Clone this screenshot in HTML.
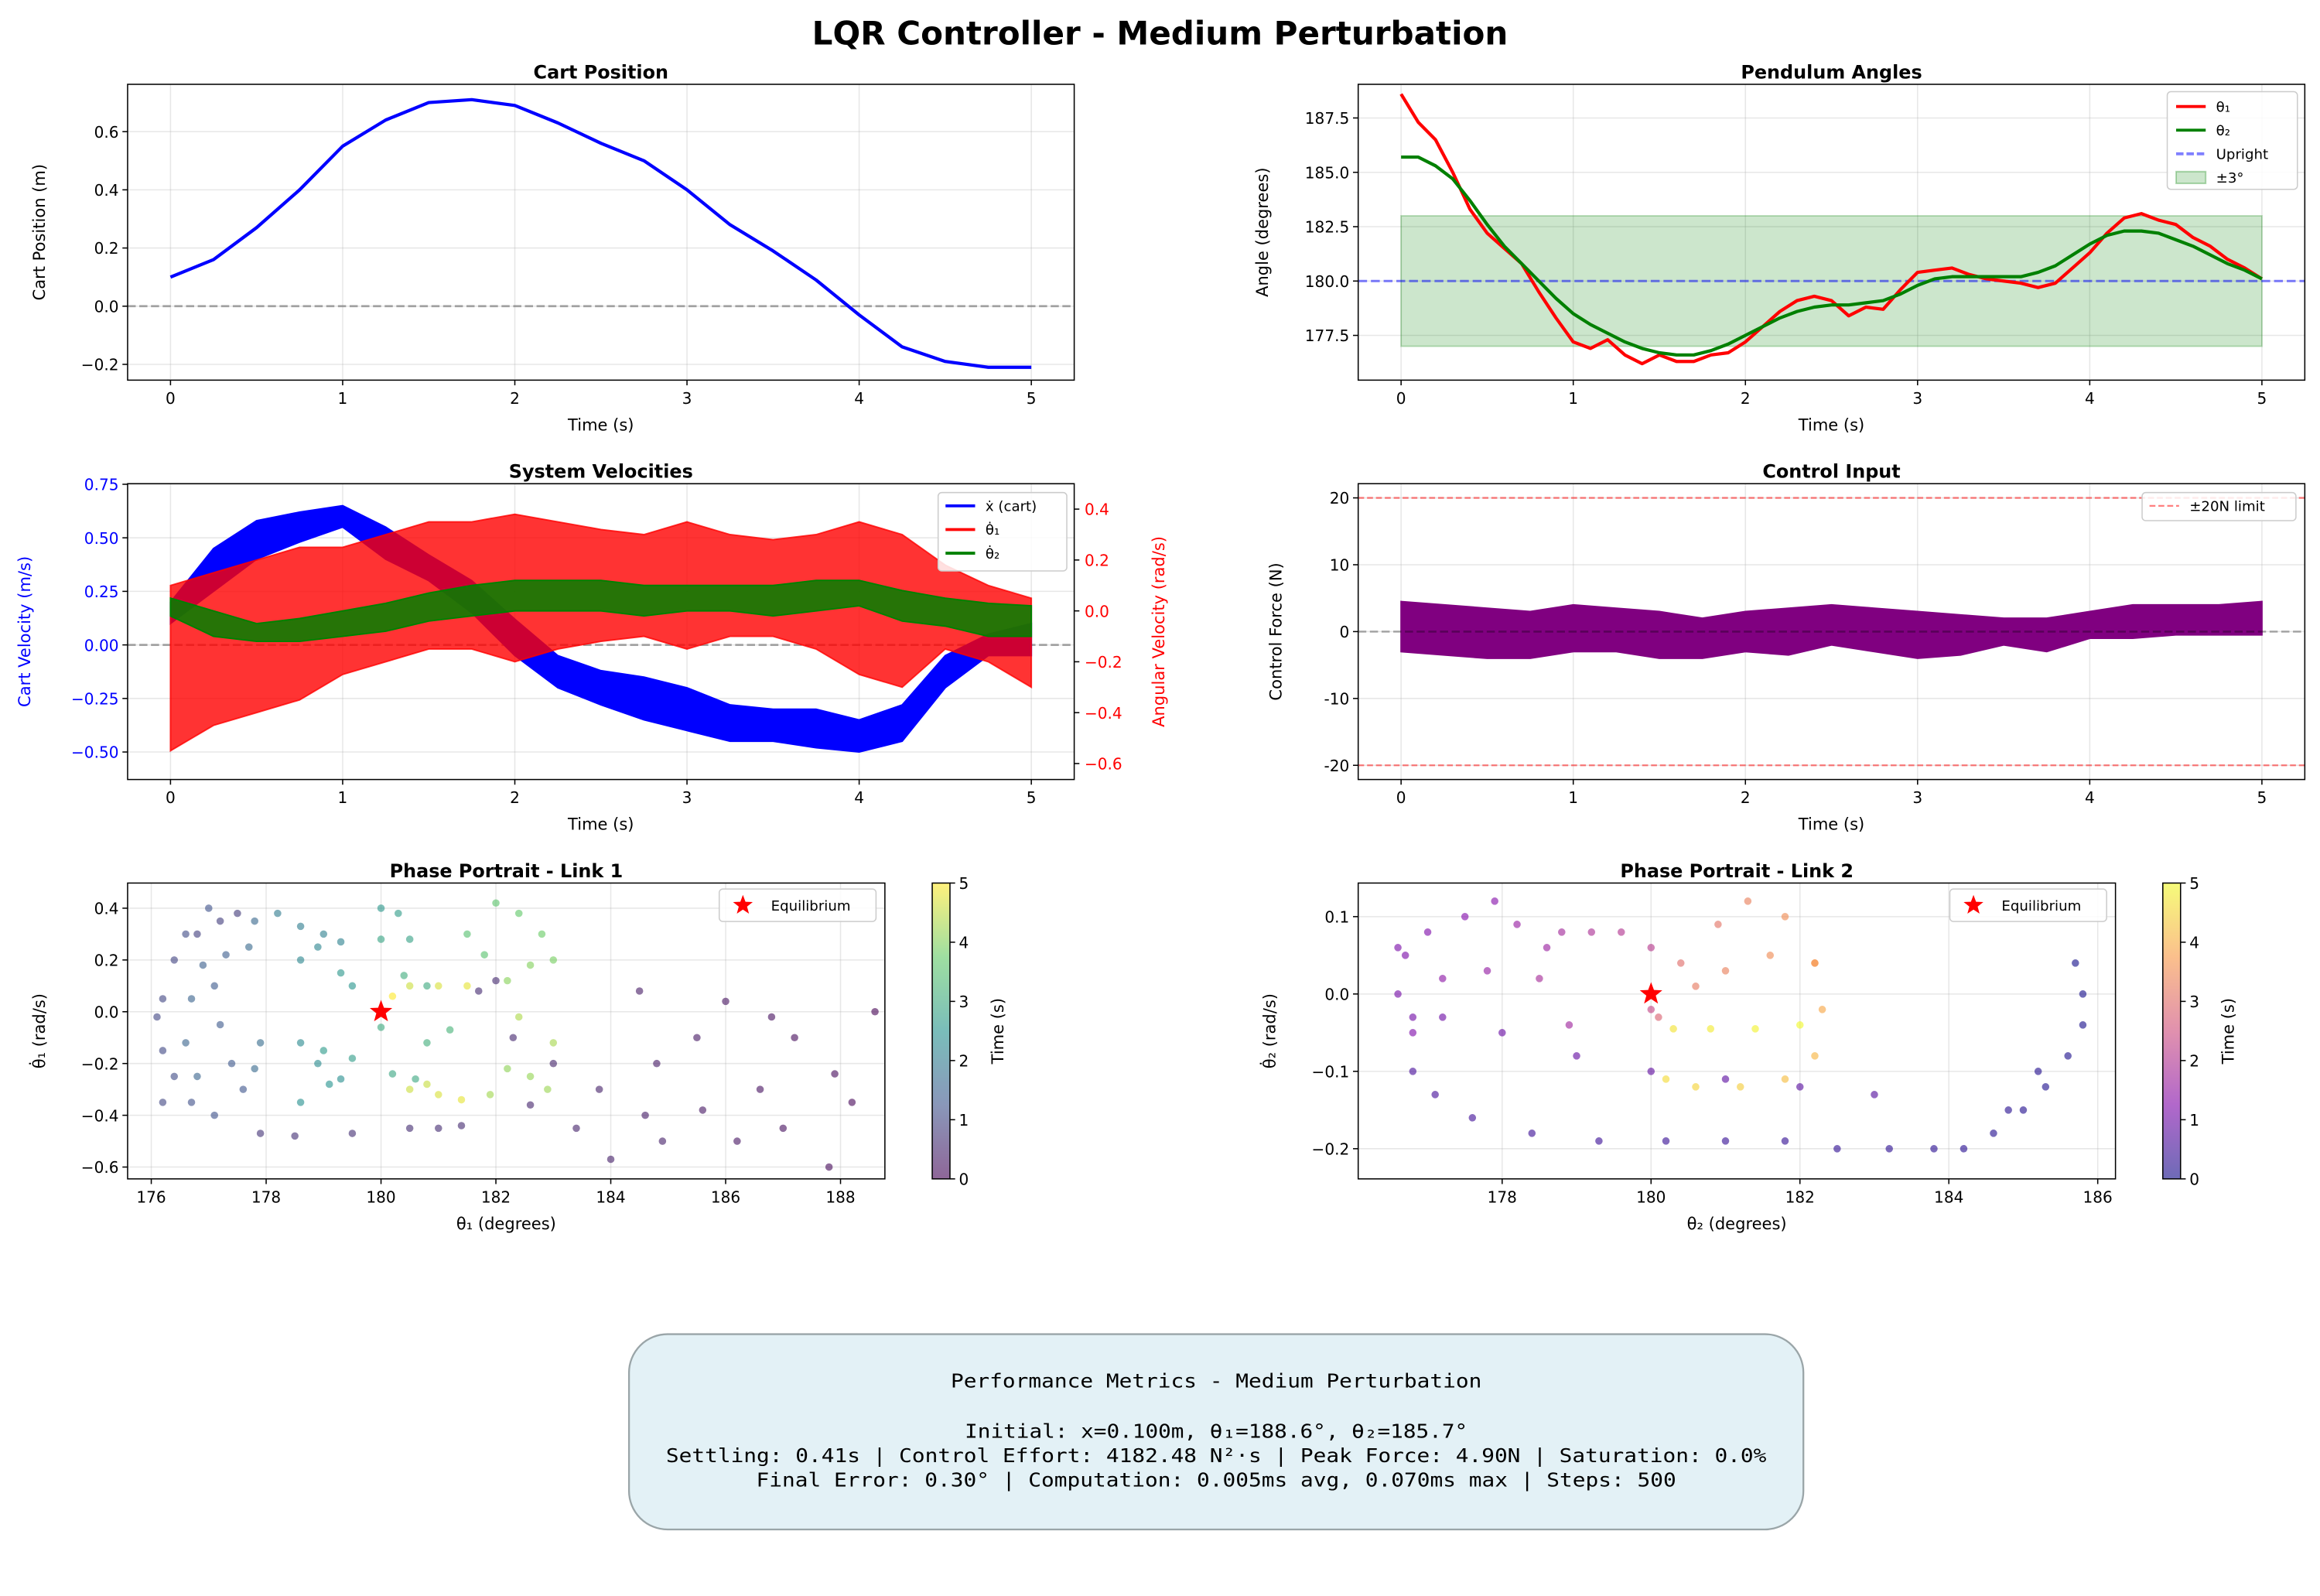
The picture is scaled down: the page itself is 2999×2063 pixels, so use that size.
<!DOCTYPE html>
<html><head><meta charset="utf-8"><title>LQR Controller - Medium Perturbation</title>
<style>
html,body{margin:0;padding:0;background:#fff;}
svg{display:block;font-family:"DejaVu Sans","Liberation Sans",sans-serif;}
</style></head>
<body>
<svg id="fig" xmlns="http://www.w3.org/2000/svg" width="2999" height="2063" viewBox="0 0 1568 1079">
<rect width="1568" height="1079" fill="#fff"/>
<text x="784" y="30" text-anchor="middle" font-size="22" font-weight="bold">LQR Controller - Medium Perturbation</text>
<g>
<rect x="425" y="902" width="794" height="132" rx="26" fill="#e3f1f6" stroke="#9aa5a8" stroke-width="1.2"/>
<g font-family="'DejaVu Sans Mono','Liberation Mono',monospace" font-size="13" text-anchor="middle" fill="#000" lengthAdjust="spacingAndGlyphs">
<text x="822" y="938" textLength="359" lengthAdjust="spacingAndGlyphs">Performance Metrics - Medium Perturbation</text>
<text x="822" y="972" textLength="340" lengthAdjust="spacingAndGlyphs">Initial: x=0.100m, θ₁=188.6°, θ₂=185.7°</text>
<text x="822" y="988.5" textLength="744" lengthAdjust="spacingAndGlyphs">Settling: 0.41s | Control Effort: 4182.48 N²·s | Peak Force: 4.90N | Saturation: 0.0%</text>
<text x="822" y="1005" textLength="622" lengthAdjust="spacingAndGlyphs">Final Error: 0.30° | Computation: 0.005ms avg, 0.070ms max | Steps: 500</text>
</g></g>
</svg>
<script>
// ---------- data ----------
const tQ = [0,0.25,0.5,0.75,1,1.25,1.5,1.75,2,2.25,2.5,2.75,3,3.25,3.5,3.75,4,4.25,4.5,4.75,5];
const cartPos = [0.10,0.16,0.27,0.40,0.55,0.64,0.70,0.71,0.69,0.63,0.56,0.50,0.40,0.28,0.19,0.09,-0.03,-0.14,-0.19,-0.21,-0.21];
const tA = [0,0.1,0.2,0.3,0.4,0.5,0.6,0.7,0.8,0.9,1,1.1,1.2,1.3,1.4,1.5,1.6,1.7,1.8,1.9,2,2.1,2.2,2.3,2.4,2.5,2.6,2.7,2.8,2.9,3,3.1,3.2,3.3,3.4,3.5,3.6,3.7,3.8,3.9,4,4.1,4.2,4.3,4.4,4.5,4.6,4.7,4.8,4.9,5];
const theta1Deg = [188.6,187.3,186.5,185,183.3,182.2,181.5,180.8,179.5,178.3,177.2,176.9,177.3,176.6,176.2,176.6,176.3,176.3,176.6,176.7,177.2,177.9,178.6,179.1,179.3,179.1,178.4,178.8,178.7,179.6,180.4,180.5,180.6,180.3,180.1,180.0,179.9,179.7,179.9,180.6,181.3,182.2,182.9,183.1,182.8,182.6,182.0,181.6,181.0,180.6,180.1];
const theta2Deg = [185.7,185.7,185.3,184.7,183.7,182.6,181.6,180.8,180,179.2,178.5,178,177.6,177.2,176.9,176.7,176.6,176.6,176.8,177.1,177.5,177.9,178.3,178.6,178.8,178.9,178.9,179.0,179.1,179.4,179.8,180.1,180.2,180.2,180.2,180.2,180.2,180.4,180.7,181.2,181.7,182.1,182.3,182.3,182.2,181.9,181.6,181.2,180.8,180.5,180.1];
const cartVelHi = [0.2,0.45,0.58,0.62,0.65,0.55,0.42,0.3,0.12,-0.05,-0.12,-0.15,-0.2,-0.28,-0.3,-0.3,-0.35,-0.28,-0.05,0.05,0.1];
const cartVelLo = [0.1,0.25,0.4,0.48,0.55,0.4,0.3,0.15,-0.05,-0.2,-0.28,-0.35,-0.4,-0.45,-0.45,-0.48,-0.5,-0.45,-0.2,-0.05,-0.05];
const omega1Hi = [0.1,0.15,0.2,0.25,0.25,0.3,0.35,0.35,0.38,0.35,0.32,0.3,0.35,0.3,0.28,0.3,0.35,0.3,0.18,0.1,0.05];
const omega1Lo = [-0.55,-0.45,-0.4,-0.35,-0.25,-0.2,-0.15,-0.15,-0.2,-0.15,-0.12,-0.1,-0.15,-0.1,-0.1,-0.15,-0.25,-0.3,-0.15,-0.2,-0.3];
const omega2Hi = [0.05,0.0,-0.05,-0.03,0.0,0.03,0.07,0.1,0.12,0.12,0.12,0.1,0.1,0.1,0.1,0.12,0.12,0.08,0.05,0.03,0.02];
const omega2Lo = [-0.02,-0.1,-0.12,-0.12,-0.1,-0.08,-0.04,-0.02,0.0,0.0,0.0,-0.02,0.0,0.0,-0.02,0.0,0.02,-0.04,-0.06,-0.1,-0.1];
const forceHi = [4.5,4,3.5,3,4,3.5,3,2,3,3.5,4,3.5,3,2.5,2,2,3,4,4,4,4.5];
const forceLo = [-3,-3.5,-4,-4,-3,-3,-4,-4,-3,-3.5,-2,-3,-4,-3.5,-2,-3,-1,-1,-0.5,-0.5,-0.5];
const phase1 = [[188.6,0.0,0],[188.2,-0.35,0.05],[187.9,-0.24,0.08],[187.8,-0.6,0.1],[187.2,-0.1,0.12],[187.0,-0.45,0.15],[186.8,-0.02,0.17],[186.6,-0.3,0.2],[186.0,0.04,0.22],[186.2,-0.5,0.25],[185.6,-0.38,0.28],[185.5,-0.1,0.3],[184.8,-0.2,0.32],[184.5,0.08,0.34],[184.6,-0.4,0.36],[184.9,-0.5,0.38],[184.0,-0.57,0.4],[183.8,-0.3,0.42],[183.4,-0.45,0.44],[183,-0.2,0.46],[182.6,-0.36,0.48],[182.3,-0.1,0.5],[182.0,0.12,0.52],[181.7,0.08,0.54],[181.4,-0.44,0.56],[181,-0.45,0.58],[180.5,-0.45,0.6],[179.5,-0.47,0.62],[178.5,-0.48,0.65],[177.9,-0.47,0.7],
[177.5,0.38,0.8],[177.2,0.35,0.85],[176.8,0.3,0.9],[176.4,0.2,0.95],[176.2,0.05,1.0],[176.1,-0.02,1.02],[176.2,-0.15,1.05],[176.4,-0.25,1.1],[176.7,-0.35,1.15],[177.1,-0.4,1.2],[177.6,-0.3,1.25],[177.4,-0.2,1.3],[177.2,-0.05,1.32],[177.1,0.1,1.35],[177.3,0.22,1.4],[176.9,0.18,1.45],[176.7,0.05,1.5],[176.6,-0.12,1.52],[176.8,-0.25,1.55],[177.8,0.35,1.6],[177.8,-0.22,1.62],[176.6,0.3,1.1],[177,0.4,1.2],[176.2,-0.35,1.0],[177.7,0.25,1.65],[177.9,-0.12,1.7],
[178.2,0.38,2.0],[178.6,0.33,2.05],[179,0.3,2.1],[179.3,0.27,2.15],[178.9,0.25,2.2],[178.6,0.2,2.25],[178.6,-0.12,2.3],[178.9,-0.2,2.35],[179.3,-0.26,2.4],[178.6,-0.35,2.45],[179.1,-0.28,2.5],[179.5,0.1,2.55],[179.3,0.15,2.6],[179,-0.15,2.65],[179.5,-0.18,2.7],[180,0.4,2.6],[180.3,0.38,2.7],[180.5,0.28,2.8],[180.2,-0.24,2.9],[180.6,-0.26,2.95],[180,0.28,2.85],[180,-0.06,3.0],[180.8,-0.12,3.1],[181.2,-0.07,3.2],[180.8,0.1,3.0],[180.4,0.14,3.05],
[182,0.42,3.6],[182.4,0.38,3.7],[182.8,0.3,3.8],[183,0.2,3.9],[182.6,0.18,4.0],[182.2,0.12,4.05],[182.2,-0.22,4.1],[182.6,-0.25,4.15],[182.9,-0.3,4.2],[181.9,-0.32,4.25],[181.5,0.3,3.5],[181.8,0.22,3.55],[183,-0.12,4.3],[182.4,-0.02,4.35],
[180.5,0.1,4.6],[181,0.1,4.7],[181.5,0.1,4.8],[180.5,-0.3,4.6],[181,-0.32,4.7],[181.4,-0.34,4.8],[180.2,0.06,5.0],[180.8,-0.28,4.55]];
const phase2 = [[185.7,0.04,0],[185.8,0.0,0.03],[185.8,-0.04,0.06],[185.6,-0.08,0.09],[185.3,-0.12,0.12],[185.0,-0.15,0.15],[184.6,-0.18,0.18],[184.2,-0.2,0.21],[183.8,-0.2,0.24],[183.2,-0.2,0.27],[182.5,-0.2,0.3],[181.8,-0.19,0.33],[181,-0.19,0.36],[180.2,-0.19,0.39],[179.3,-0.19,0.42],[178.4,-0.18,0.45],[177.6,-0.16,0.5],[177.1,-0.13,0.55],[176.8,-0.1,0.6],
[185.2,-0.1,0.15],[184.8,-0.15,0.2],[183,-0.13,0.7],[182,-0.12,0.75],[181,-0.11,0.8],[180,-0.1,0.85],[179,-0.08,0.9],[178,-0.05,0.95],[177.2,-0.03,1.0],[176.8,-0.03,1.05],
[176.6,0.0,1.1],[176.7,0.05,1.15],[177,0.08,1.2],[177.5,0.1,1.25],[177.9,0.12,1.3],[176.6,0.06,1.15],[176.8,-0.05,1.2],[177.2,0.02,1.4],[177.8,0.03,1.5],[178.2,0.09,1.55],[178.6,0.06,1.6],[178.9,-0.04,1.7],
[179.2,0.08,1.9],[179.6,0.08,2.0],[180,0.06,2.1],[178.5,0.02,1.8],[178.8,0.08,1.75],[180,-0.02,2.3],
[180.1,-0.03,2.8],[180.4,0.04,3.0],[180.9,0.09,3.1],[181.3,0.12,3.3],[181.8,0.1,3.5],[182.2,0.04,3.6],[180.6,0.01,3.2],[181,0.03,3.3],[181.6,0.05,3.5],[182.2,0.04,3.7],
[182.3,-0.02,3.9],[182.2,-0.08,4.1],[181.8,-0.11,4.2],[181.2,-0.12,4.4],[180.6,-0.12,4.5],[180.2,-0.11,4.6],[180.3,-0.045,4.7],[180.8,-0.045,4.8],[181.4,-0.045,4.9],[182,-0.04,5.0]];
const timeTicks = [0,1,2,3,4,5];
const posTicks = [-0.2,0,0.2,0.4,0.6];
const angTicks = [177.5,180,182.5,185,187.5];
const velTicks = [-0.5,-0.25,0,0.25,0.5,0.75];
const omegaTicks = [-0.6,-0.4,-0.2,0,0.2,0.4];
const forceTicks = [-20,-10,0,10,20];
const ph1XTicks = [176,178,180,182,184,186,188];
const ph1YTicks = [-0.6,-0.4,-0.2,0,0.2,0.4];
const ph2XTicks = [178,180,182,184,186];
const ph2YTicks = [-0.2,-0.1,0,0.1];
const cbTicks = [0,1,2,3,4,5];

// ---------- helpers ----------
const NS = 'http://www.w3.org/2000/svg';
const svg = document.getElementById('fig');
function mk(parent, tag, attrs, name, inter){
  const el = document.createElementNS(NS, tag);
  for (const k in attrs) el.setAttribute(k, attrs[k]);
  
  
  parent.appendChild(el);
  return el;
}
function txt(parent, x, y, s, name, opts){
  opts = opts || {};
  const a = {x:x, y:y, 'font-size': opts.size || 10.5, 'text-anchor': opts.anchor || 'middle', fill: opts.fill || '#000'};
  if (opts.weight) a['font-weight'] = opts.weight;
  if (opts.rot) a.transform = 'rotate(-90 ' + x + ' ' + y + ')';
  const el = mk(parent, 'text', a, name, false);
  el.textContent = s;
  return el;
}
function fmt(v, d){ const s = Math.abs(v).toFixed(d); return (v < -1e-9 ? '\u2212' : '') + s; }
function lin(d0, d1, p0, p1){ return v => p0 + (v - d0) * (p1 - p0) / (d1 - d0); }

function panel(name, box, sx, sy, xt, xd, yt, yd, opts){
  opts = opts || {};
  const g = mk(svg, 'g', {}, name, false);
  const [x0,y0,x1,y1] = box;
  const grid = mk(g, 'g', {stroke:'#b0b0b0','stroke-opacity':0.3,'stroke-width':0.8}, name+'-grid', false);
  xt.forEach(v => { mk(grid,'line',{x1:sx(v),x2:sx(v),y1:y0,y2:y1}, 'x-gridline', false); });
  yt.forEach(v => { mk(grid,'line',{x1:x0,x2:x1,y1:sy(v),y2:sy(v)}, 'y-gridline', false); });
  const xa = mk(g,'g',{}, name+'-x-axis', false);
  xt.forEach(v => {
    mk(xa,'line',{x1:sx(v),x2:sx(v),y1:y1,y2:y1+3.5,stroke:'#000','stroke-width':0.8}, 'x-tick', false);
    txt(xa, sx(v), y1+16, xd < 0 ? String(v) : fmt(v, xd), 'x-tick-label');
  });
  const ya = mk(g,'g',{}, name+'-y-axis', false);
  yt.forEach(v => {
    mk(ya,'line',{x1:x0-3.5,x2:x0,y1:sy(v),y2:sy(v),stroke:'#000','stroke-width':0.8}, 'y-tick', false);
    txt(ya, x0-6, sy(v)+4, yd < 0 ? String(v) : fmt(v, yd), 'y-tick-label', {anchor:'end', fill: opts.yColor || '#000'});
  });
  const plot = mk(g,'g',{}, name+'-plot-area', false);
  g._plot = plot;
  g._frame = () => mk(g,'rect',{x:x0,y:y0,width:x1-x0,height:y1-y0,fill:'none',stroke:'#000','stroke-width':0.8}, name+'-frame', false);
  if (opts.title) txt(g, (x0+x1)/2, y0-4, opts.title, name+'-title', {size:12.5, weight:'bold'});
  if (opts.xlabel) txt(g, (x0+x1)/2, y1+34, opts.xlabel, name+'-x-axis-title', {size:11});
  if (opts.ylabel) txt(g, opts.ylx, (y0+y1)/2, opts.ylabel, name+'-y-axis-title', {size:11, rot:true, fill: opts.yColor || '#000'});
  return g;
}
function pathFrom(xs, ys, sx, sy){ return xs.map((v,i) => (i ? 'L' : 'M') + sx(v).toFixed(2) + ',' + sy(ys[i]).toFixed(2)).join(''); }
function bandFrom(xs, hi, lo, sx, sy){
  let d = xs.map((v,i) => (i ? 'L' : 'M') + sx(v).toFixed(2) + ',' + sy(hi[i]).toFixed(2)).join('');
  for (let i = xs.length-1; i >= 0; i--) d += 'L' + sx(xs[i]).toFixed(2) + ',' + sy(lo[i]).toFixed(2);
  return d + 'Z';
}
const VIR = [[68,1,84],[59,82,139],[33,145,140],[94,201,98],[253,231,37]];
const PLA = [[13,8,135],[126,3,168],[204,71,120],[248,149,64],[240,249,33]];
function cmap(stops, f){
  f = Math.max(0, Math.min(1, f)); const p = f * (stops.length-1); const i = Math.min(stops.length-2, Math.floor(p)); const r = p - i;
  const c = stops[i].map((v,k) => Math.round(v + (stops[i+1][k]-v)*r));
  return 'rgb(' + c.join(',') + ')';
}
function legendBox(parent, x, y, w, h, name){
  return mk(parent,'rect',{x:x,y:y,width:w,height:h,rx:2.5,fill:'#fff','fill-opacity':0.85,stroke:'#ccc','stroke-width':0.8}, name, false);
}
function star(parent, cx, cy, r, name){
  let pts = [];
  for (let i=0;i<10;i++){ const a = -Math.PI/2 + i*Math.PI/5; const rr = i%2 ? r*0.42 : r; pts.push((cx+rr*Math.cos(a)).toFixed(2)+','+(cy+rr*Math.sin(a)).toFixed(2)); }
  return mk(parent,'polygon',{points:pts.join(' '),fill:'red'}, name, false);
}
function colorbar(x0, y0, x1, y1, stops, name){
  const g = mk(svg,'g',{}, name, false);
  const defs = mk(g,'defs',{}, name+'-defs', false);
  const lg = mk(defs,'linearGradient',{id:name+'-grad',x1:0,y1:1,x2:0,y2:0}, name+'-gradient', false);
  stops.forEach((c,i) => { mk(lg,'stop',{offset: i/(stops.length-1), 'stop-color':'rgb('+c.join(',')+')', 'stop-opacity':0.6}, 'gradient-stop', false); });
  mk(g,'rect',{x:x0,y:y0,width:x1-x0,height:y1-y0,fill:'url(#'+name+'-grad)',stroke:'#000','stroke-width':0.8}, name+'-bar', false);
  const cy = lin(0,5,y1,y0);
  cbTicks.forEach(v => {
    mk(g,'line',{x1:x1,x2:x1+3.5,y1:cy(v),y2:cy(v),stroke:'#000','stroke-width':0.8}, 'colorbar-tick', false);
    txt(g, x1+6, cy(v)+4, String(v), 'colorbar-tick-label', {anchor:'start'});
  });
  txt(g, x1+36, (y0+y1)/2, 'Time (s)', name+'-label', {size:11, rot:true});
}

// ---------- Panel 1: Cart position ----------
{
  const sx = lin(0,5,115,697), sy = lin(0,0.6,207,89);
  const g = panel('cart-position-chart',[86,57,726,257],sx,sy,timeTicks,-1,posTicks,1,{title:'Cart Position',xlabel:'Time (s)',ylabel:'Cart Position (m)',ylx:30});
  mk(g._plot,'line',{x1:86,x2:726,y1:sy(0),y2:sy(0),stroke:'#808080','stroke-opacity':0.7,'stroke-width':1.4,'stroke-dasharray':'5.5,2.4'}, 'zero-reference-line', false);
  mk(g._plot,'path',{d:pathFrom(tQ,cartPos,sx,sy),fill:'none',stroke:'blue','stroke-width':2.2,'stroke-linejoin':'round'}, 'cart-position-line', false);
  g._frame();
}
// ---------- Panel 2: Pendulum angles ----------
{
  const sx = lin(0,5,947,1529), sy = lin(180,187.5,190,79.75);
  const g = panel('pendulum-angles-chart',[918,57,1558,257],sx,sy,timeTicks,-1,angTicks,1,{title:'Pendulum Angles',xlabel:'Time (s)',ylabel:'Angle (degrees)',ylx:857});
  mk(g._plot,'rect',{x:sx(0),y:sy(183),width:sx(5)-sx(0),height:sy(177)-sy(183),fill:'green','fill-opacity':0.2,stroke:'green','stroke-opacity':0.25}, 'tolerance-band', false);
  mk(g._plot,'line',{x1:918,x2:1558,y1:sy(180),y2:sy(180),stroke:'blue','stroke-opacity':0.5,'stroke-width':1.6,'stroke-dasharray':'6,2.6'}, 'upright-line', false);
  mk(g._plot,'path',{d:pathFrom(tA,theta1Deg,sx,sy),fill:'none',stroke:'red','stroke-width':2.2,'stroke-linejoin':'round'}, 'theta1-line', false);
  mk(g._plot,'path',{d:pathFrom(tA,theta2Deg,sx,sy),fill:'none',stroke:'green','stroke-width':2.2,'stroke-linejoin':'round'}, 'theta2-line', false);
  g._frame();
  const lg = mk(g,'g',{}, 'angles-legend', false);
  legendBox(lg,1465,62,88,66,'angles-legend-box');
  const items = [['θ₁','red','line'],['θ₂','green','line'],['Upright','blue','dash'],['±3°','green','patch']];
  items.forEach((it,i) => {
    const y = 72 + i*16;
    const e = mk(lg,'g',{}, 'legend-entry', false);
    if (it[2]==='patch') mk(e,'rect',{x:1471,y:y-4,width:20,height:8,fill:'green','fill-opacity':0.2,stroke:'green','stroke-opacity':0.3}, 'legend-swatch', false);
    else mk(e,'line',{x1:1471,x2:1491,y1:y,y2:y,stroke:it[1],'stroke-width':2,'stroke-opacity':it[2]==='dash'?0.5:1,'stroke-dasharray':it[2]==='dash'?'5,2':'none'}, 'legend-swatch', false);
    txt(e,1498,y+3.5,it[0],'legend-label',{anchor:'start',size:9.5});
  });
}
// ---------- Panel 3: Velocities ----------
{
  const sx = lin(0,5,115,697), sy = lin(0,0.75,436,327.4), sr = lin(0,0.4,413,344.2);
  const g = panel('system-velocities-chart',[86,327,726,527],sx,sy,timeTicks,-1,velTicks,2,{title:'System Velocities',xlabel:'Time (s)',ylabel:'Cart Velocity (m/s)',ylx:20,yColor:'blue'});
  mk(g._plot,'line',{x1:86,x2:726,y1:sy(0),y2:sy(0),stroke:'#808080','stroke-opacity':0.7,'stroke-width':1.4,'stroke-dasharray':'5.5,2.4'}, 'zero-reference-line', false);
  mk(g._plot,'path',{d:bandFrom(tQ,cartVelHi,cartVelLo,sx,sy),fill:'blue',stroke:'blue','stroke-width':1}, 'cart-velocity-band', false);
  mk(g._plot,'path',{d:bandFrom(tQ,omega1Hi,omega1Lo,sx,sr),fill:'red','fill-opacity':0.8,stroke:'red','stroke-opacity':0.8,'stroke-width':1}, 'theta1-velocity-band', false);
  mk(g._plot,'path',{d:bandFrom(tQ,omega2Hi,omega2Lo,sx,sr),fill:'green','fill-opacity':0.85,stroke:'green','stroke-width':1}, 'theta2-velocity-band', false);
  g._frame();
  const ra = mk(g,'g',{}, 'right-y-axis', false);
  omegaTicks.forEach(v => {
    mk(ra,'line',{x1:726,x2:729.5,y1:sr(v),y2:sr(v),stroke:'#000','stroke-width':0.8}, 'y-tick', false);
    txt(ra,733,sr(v)+4,fmt(v,1),'y-tick-label',{anchor:'start',fill:'red'});
  });
  txt(ra,787,427,'Angular Velocity (rad/s)','right-y-axis-title',{size:11,rot:true,fill:'red'});
  const lg = mk(g,'g',{}, 'velocities-legend', false);
  legendBox(lg,634,333,87,53,'velocities-legend-box');
  [['ẋ (cart)','blue'],['θ̇₁','red'],['θ̇₂','green']].forEach((it,i) => {
    const y = 342 + i*16;
    const e = mk(lg,'g',{}, 'legend-entry', false);
    mk(e,'line',{x1:639,x2:659,y1:y,y2:y,stroke:it[1],'stroke-width':2}, 'legend-swatch', false);
    txt(e,666,y+3.5,it[0],'legend-label',{anchor:'start',size:9.5});
  });
}
// ---------- Panel 4: Control input ----------
{
  const sx = lin(0,5,947,1529), sy = lin(0,20,427,336.6);
  const g = panel('control-input-chart',[918,327,1558,527],sx,sy,timeTicks,-1,forceTicks,-1,{title:'Control Input',xlabel:'Time (s)',ylabel:'Control Force (N)',ylx:866});
  [20,-20].forEach(v => { mk(g._plot,'line',{x1:918,x2:1558,y1:sy(v),y2:sy(v),stroke:'red','stroke-opacity':0.5,'stroke-width':1.2,'stroke-dasharray':'4,2'}, 'force-limit-line', false); });
  mk(g._plot,'path',{d:bandFrom(tQ,forceHi,forceLo,sx,sy),fill:'purple',stroke:'purple','stroke-width':1}, 'control-force-band', false);
  mk(g._plot,'line',{x1:918,x2:1558,y1:sy(0),y2:sy(0),stroke:'#000','stroke-opacity':0.3,'stroke-width':1.4,'stroke-dasharray':'5.5,2.4'}, 'zero-reference-line', false);
  g._frame();
  const lg = mk(g,'g',{}, 'control-legend', false);
  legendBox(lg,1448,333,104,19,'control-legend-box');
  mk(lg,'line',{x1:1453,x2:1473,y1:342,y2:342,stroke:'red','stroke-opacity':0.5,'stroke-width':1.2,'stroke-dasharray':'4,2'}, 'legend-swatch', false);
  txt(lg,1480,345.5,'±20N limit','legend-label',{anchor:'start',size:9.5});
}
// ---------- Panel 5: Phase portrait 1 ----------
{
  const sx = lin(176,188,102,568), sy = lin(0,0.4,684,614);
  const g = panel('phase-portrait-link1',[86,597,598,797],sx,sy,ph1XTicks,-1,ph1YTicks,1,{title:'Phase Portrait - Link 1',xlabel:'θ₁ (degrees)',ylabel:'θ̇₁ (rad/s)',ylx:30});
  const pts = mk(g._plot,'g',{}, 'phase1-points', false);
  phase1.forEach(p => { mk(pts,'circle',{cx:sx(p[0]),cy:sy(p[1]),r:2.5,fill:cmap(VIR,p[2]/5),'fill-opacity':0.6}, 'phase1-point', false); });
  star(g._plot, sx(180), sy(0), 8, 'equilibrium-marker');
  g._frame();
  const lg = mk(g,'g',{}, 'phase1-legend', false);
  legendBox(lg,486,601,106,22,'phase1-legend-box');
  star(lg,502,612,7,'legend-swatch');
  txt(lg,521,615.5,'Equilibrium','legend-label',{anchor:'start',size:9.5});
  colorbar(630,597,642,797,VIR,'phase1-colorbar');
}
// ---------- Panel 6: Phase portrait 2 ----------
{
  const sx = lin(180,186,1116,1418), sy = lin(0,0.1,672,619.7);
  const g = panel('phase-portrait-link2',[918,597,1430,797],sx,sy,ph2XTicks,-1,ph2YTicks,1,{title:'Phase Portrait - Link 2',xlabel:'θ₂ (degrees)',ylabel:'θ̇₂ (rad/s)',ylx:862});
  const pts = mk(g._plot,'g',{}, 'phase2-points', false);
  phase2.forEach(p => { mk(pts,'circle',{cx:sx(p[0]),cy:sy(p[1]),r:2.5,fill:cmap(PLA,p[2]/5),'fill-opacity':0.6}, 'phase2-point', false); });
  star(g._plot, sx(180), sy(0), 8, 'equilibrium-marker');
  g._frame();
  const lg = mk(g,'g',{}, 'phase2-legend', false);
  legendBox(lg,1318,601,106,22,'phase2-legend-box');
  star(lg,1334,612,7,'legend-swatch');
  txt(lg,1353,615.5,'Equilibrium','legend-label',{anchor:'start',size:9.5});
  colorbar(1462,597,1474,797,PLA,'phase2-colorbar');
}
</script>
</body></html>
